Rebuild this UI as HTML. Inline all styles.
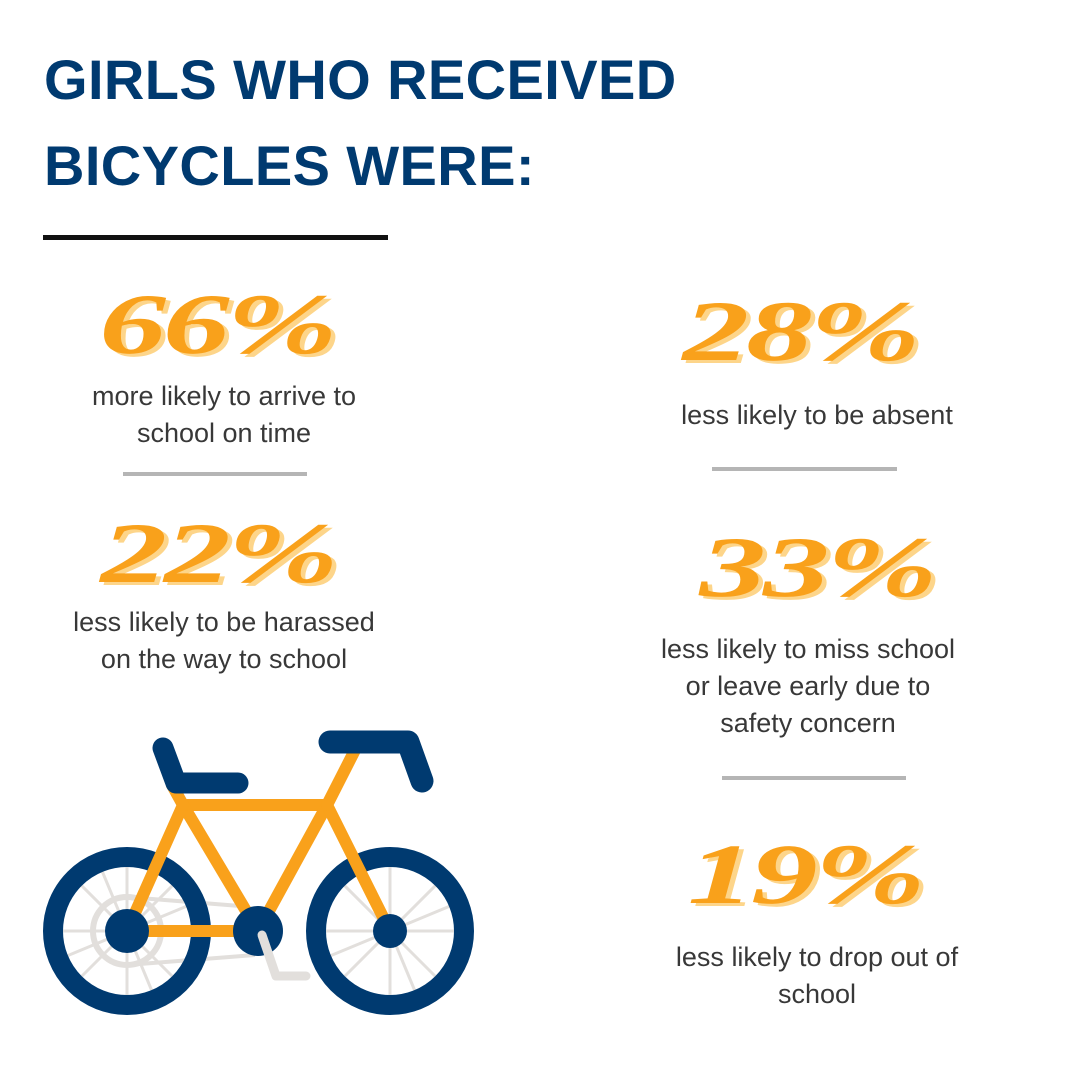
<!DOCTYPE html>
<html><head><meta charset="utf-8"><style>
body{margin:0;width:1080px;height:1080px;background:#fff;position:relative;overflow:hidden;font-family:"Liberation Sans",sans-serif}
.t{position:absolute;left:44px;color:#003a70;font-weight:bold;font-size:56px;letter-spacing:0.4px;line-height:1;margin:0}
.p{position:absolute;transform:translate(-50%,-50%) scaleX(1.55);font-family:"Liberation Serif",serif;font-weight:bold;font-style:italic;font-size:86px;color:#f9a11b;text-shadow:3px 3px 0 #fdd58a;white-space:nowrap;letter-spacing:-2px}
.d{position:absolute;transform:translateX(-50%);font-size:27px;color:#383838;text-align:center;line-height:37px;white-space:nowrap}
.r{position:absolute;height:4px;background:#b5b5b5}
</style></head><body>
<h1 class="t" style="top:52px">GIRLS WHO RECEIVED</h1>
<h1 class="t" style="top:138px">BICYCLES WERE:</h1>
<div style="position:absolute;left:43px;top:235px;width:345px;height:5px;background:#111"></div>

<div class="p" style="left:217px;top:324px">66%</div>
<div class="d" style="left:224px;top:378px">more likely to arrive to<br>school on time</div>
<div class="r" style="left:123px;top:472px;width:184px"></div>

<div class="p" style="left:218px;top:553px">22%</div>
<div class="d" style="left:224px;top:604px">less likely to be harassed<br>on the way to school</div>

<div class="p" style="left:800px;top:331px">28%</div>
<div class="d" style="left:817px;top:397px">less likely to be absent</div>
<div class="r" style="left:712px;top:467px;width:185px"></div>

<div class="p" style="left:817px;top:567px">33%</div>
<div class="d" style="left:808px;top:631px">less likely to miss school<br>or leave early due to<br>safety concern</div>
<div class="r" style="left:722px;top:776px;width:184px"></div>

<div class="p" style="left:805px;top:874px">19%</div>
<div class="d" style="left:817px;top:939px">less likely to drop out of<br>school</div>

<svg style="position:absolute;left:0;top:0" width="1080" height="1080">
<g stroke="#e2dfdc" stroke-width="3">
<g>
<line x1="127" y1="931" x2="127" y2="861"/><line x1="127" y1="931" x2="127" y2="1001"/>
<line x1="127" y1="931" x2="57" y2="931"/><line x1="127" y1="931" x2="197" y2="931"/>
<line x1="127" y1="931" x2="77" y2="881"/><line x1="127" y1="931" x2="177" y2="981"/>
<line x1="127" y1="931" x2="177" y2="881"/><line x1="127" y1="931" x2="77" y2="981"/>
<line x1="127" y1="931" x2="100" y2="866"/><line x1="127" y1="931" x2="154" y2="996"/>
<line x1="127" y1="931" x2="62" y2="958"/><line x1="127" y1="931" x2="192" y2="904"/>
</g>
<g transform="translate(263,0)">
<line x1="127" y1="931" x2="127" y2="861"/><line x1="127" y1="931" x2="127" y2="1001"/>
<line x1="127" y1="931" x2="57" y2="931"/><line x1="127" y1="931" x2="197" y2="931"/>
<line x1="127" y1="931" x2="77" y2="881"/><line x1="127" y1="931" x2="177" y2="981"/>
<line x1="127" y1="931" x2="177" y2="881"/><line x1="127" y1="931" x2="77" y2="981"/>
<line x1="127" y1="931" x2="100" y2="866"/><line x1="127" y1="931" x2="154" y2="996"/>
<line x1="127" y1="931" x2="62" y2="958"/><line x1="127" y1="931" x2="192" y2="904"/>
</g>
<circle cx="127" cy="931" r="34" fill="none" stroke-width="6"/>
<line x1="127" y1="897" x2="240" y2="906" stroke-width="4"/>
<line x1="127" y1="965" x2="255" y2="955" stroke-width="4"/>
</g>
<g fill="none" stroke="#003a70" stroke-width="20">
<circle cx="127" cy="931" r="74"/><circle cx="390" cy="931" r="74"/>
</g>
<g stroke="#f9a11b" stroke-width="12" stroke-linecap="round" fill="none">
<line x1="183" y1="805" x2="327" y2="805"/>
<line x1="183" y1="805" x2="258" y2="931"/>
<line x1="327" y1="805" x2="258" y2="931"/>
<line x1="183" y1="805" x2="127" y2="931"/>
<line x1="127" y1="931" x2="258" y2="931"/>
<line x1="327" y1="805" x2="390" y2="931"/>
<line x1="327" y1="805" x2="355" y2="750"/>
<line x1="183" y1="805" x2="172" y2="785"/>
</g>
<g fill="#003a70">
<circle cx="127" cy="931" r="22"/><circle cx="390" cy="931" r="17"/><circle cx="258" cy="931" r="25"/>
</g>
<polyline points="262,935 276,976 306,976" fill="none" stroke="#e2dfdc" stroke-width="9" stroke-linecap="round" stroke-linejoin="round"/>
<polyline points="163,748 176,783 238,783" fill="none" stroke="#003a70" stroke-width="21" stroke-linecap="round" stroke-linejoin="round"/>
<polyline points="330,742 408,742 422,781" fill="none" stroke="#003a70" stroke-width="23" stroke-linecap="round" stroke-linejoin="round"/>
</svg>
</body></html>
